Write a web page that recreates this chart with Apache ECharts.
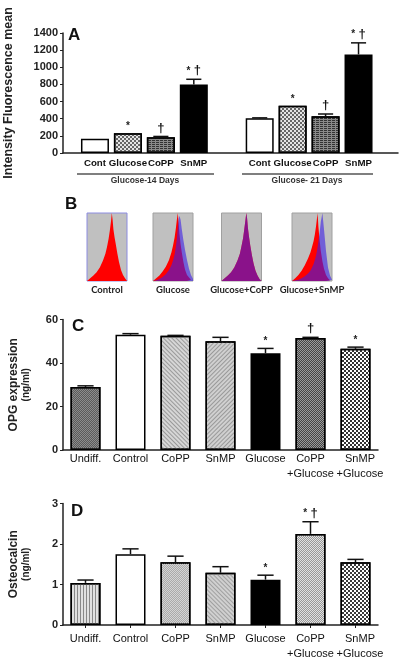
<!DOCTYPE html>
<html><head><meta charset="utf-8">
<script src="https://cdn.jsdelivr.net/npm/echarts@6/dist/echarts.min.js"></script>
<style>html,body{margin:0;padding:0;background:#fff}#c{width:400px;height:660px}</style>
</head><body><div id="c"></div>
<script>
// ---------- Panel A data ----------
const catsA  = ['Cont','Glucose','CoPP','SnMP','','Cont','Glucose','CoPP','SnMP'];
const meanA  = [165, 230, 185, 800, null, 405, 550, 430, 1150];
const errA   = [0, 0, 8, 60, null, 5, 0, 25, 135];
const sigA   = ['', '*', '†', '*†', '', '', '*', '†', '*†'];
const groupsA = ['Glucose-14 Days', 'Glucose- 21 Days'];
const yMaxA = 1400, yStepA = 200;
const yNameA = 'Intensity Fluorescence mean';

// ---------- Panel B data (flow histograms) ----------
const histBins   = [0, 8, 16, 24, 32, 40, 46, 50, 54, 57, 60, 62, 64, 66, 69, 72, 76, 80, 85, 90, 95, 100];
const histLabels = ['Control', 'Glucose', 'Glucose+CoPP', 'Glucose+SnMP'];
const controlRed   = [0, 4, 8, 13, 20, 30, 40, 50, 62, 74, 88, 100, 90, 76, 64, 54, 40, 28, 16, 9, 4, 0];
const glucoseRed   = [0, 4, 8, 14, 21, 31, 42, 52, 64, 77, 92, 100, 86, 70, 54, 42, 28, 17, 9, 5, 2, 0];
const glucoseBlue  = [0, 1, 3, 6, 10, 16, 23, 30, 39, 50, 64, 78, 90, 96, 90, 76, 60, 46, 31, 18, 9, 3];
const glucoseCoPP  = [0, 4, 8, 13, 20, 30, 40, 51, 63, 76, 90, 100, 92, 78, 64, 52, 38, 26, 15, 8, 3, 0];
const snmpRed      = [0, 4, 9, 15, 23, 33, 42, 50, 59, 68, 80, 90, 100, 80, 60, 44, 29, 18, 9, 4, 1, 0];
const snmpBlue     = [0, 1, 2, 4, 7, 11, 15, 20, 25, 31, 37, 43, 50, 58, 71, 87, 100, 76, 44, 20, 8, 2];

// ---------- Panels C & D data ----------
const catsCD = ['Undiff.', 'Control', 'CoPP', 'SnMP', 'Glucose', 'CoPP\n+Glucose', 'SnMP\n+Glucose'];
const meanC = [29, 53, 52.5, 50, 44.5, 51.5, 46.5];
const errC  = [0.5, 0.5, 0.2, 1.8, 2.2, 0.3, 0.8];
const sigC  = ['', '', '', '', '*', '†', '*'];
const yMaxC = 60, yStepC = 20;
const meanD = [1.04, 1.75, 1.55, 1.29, 1.12, 2.25, 1.55];
const errD  = [0.07, 0.13, 0.15, 0.15, 0.11, 0.30, 0.07];
const sigD  = ['', '', '', '', '*', '*†', ''];
const yMaxD = 3, yStepD = 1;

// ---------- styles ----------
const FONT = 'Liberation Sans';
const checker = (c, s) => ({symbol: 'rect', symbolSize: 1, color: c, dashArrayX: [[s, s], [0, s, s, 0]], dashArrayY: [s, 0]});
const hlines  = (c, d, g) => ({symbol: 'rect', symbolSize: 1, color: c, dashArrayX: d, dashArrayY: g});
const diag    = (c, rot) => ({symbol: 'rect', symbolSize: 1, color: c, dashArrayX: [1, 0], dashArrayY: [1, 2], rotation: rot});
const st = (fill, decal) => decal ? {color: fill, decal: decal} : {color: fill};

const white = st('#ffffff'), black = st('#000000');
const stylesA = [white, st('#e4e4e4', checker('#666', 2)), st('#8a8a8a', hlines('#333', [3, 1], [1, 1])), black, white,
                 white, st('#e4e4e4', checker('#666', 2)), st('#8a8a8a', hlines('#333', [3, 1], [1, 1])), black];
const stylesC = [st('#8c8c8c', checker('#5a5a5a', 1)), white, st('#d6d6d6', diag('#9a9a9a', Math.PI / 4)),
                 st('#d0d0d0', diag('#999', -Math.PI / 4)), black, st('#9a9a9a', checker('#444', 1)), st('#ffffff', checker('#333', 2))];
const stylesD = [st('#e0e0e0', diag('#888', Math.PI / 2)), white, st('#d4d4d4', checker('#aaa', 1)),
                 st('#d0d0d0', diag('#a0a0a0', Math.PI / 4)), black, st('#e2e2e2', checker('#999', 1)), st('#ffffff', checker('#3a3a3a', 2))];

function sigText(s) {
  if (!s) return '';
  return s.split('').map(ch => ch === '*' ? '{s|*}' : '{d|†}').join(' ');
}

function barSeries(xi, means, styles, bw) {
  return {
    type: 'bar', xAxisIndex: xi, yAxisIndex: xi, barWidth: bw, z: 3,
    data: means.map((v, i) => v == null ? '-' : {value: v, itemStyle: Object.assign({borderColor: '#000', borderWidth: 1.5}, styles[i])}),
    emphasis: {disabled: true}
  };
}

function errSeries(xi, means, errs, sigs, bw) {
  return {
    type: 'custom', xAxisIndex: xi, yAxisIndex: xi, z: 5, silent: true,
    data: means.map((m, i) => [i, m == null ? 0 : m, m == null ? 0 : m + errs[i]]),
    renderItem: function (params, api) {
      const i = params.dataIndex;
      if (means[i] == null) return null;
      const base = api.coord([api.value(0), api.value(1)]);
      const top = api.coord([api.value(0), api.value(2)]);
      const cap = bw * 0.27;
      const children = [];
      if (errs[i] > 0) {
        children.push({type: 'line', shape: {x1: base[0], y1: base[1], x2: top[0], y2: top[1]}, style: {stroke: '#111', lineWidth: 1.5}});
        children.push({type: 'line', shape: {x1: top[0] - cap, y1: top[1], x2: top[0] + cap, y2: top[1]}, style: {stroke: '#111', lineWidth: 1.5}});
      }
      if (sigs[i]) {
        children.push({type: 'text', style: {
          x: top[0], y: top[1] - 2, text: sigText(sigs[i]), align: 'center', verticalAlign: 'bottom',
          rich: {s: {fontSize: 10, fontFamily: FONT, fill: '#222', fontWeight: 'bold'},
                 d: {fontSize: 13, fontFamily: FONT, fill: '#111', fontWeight: 'bold'}}
        }});
      }
      return {type: 'group', children: children};
    }
  };
}

const boxLeft = [87, 153, 221.5, 292];
const redSets  = [controlRed, glucoseRed, glucoseCoPP, snmpRed];
const blueSets = [null, glucoseBlue, glucoseCoPP, snmpBlue];

const grids = [
  {left: 63, top: 33, width: 335, height: 120},
  {left: 78.5, top: 33, width: 296.5, height: 120},
];
boxLeft.forEach((l, k) => grids.push({left: l, top: 213, width: 40, height: 68, show: true,
  backgroundColor: '#c0c0c0', borderColor: k === 0 ? '#8c8ce0' : '#a0a0a0', borderWidth: 1}));
grids.push({left: 63, top: 319.5, width: 315, height: 130.5});
grids.push({left: 63, top: 503.5, width: 315, height: 121.5});
grids.forEach(g => { g.containLabel = false; g.outerBoundsMode = 'none'; });

const yLab = {fontFamily: FONT, fontWeight: 'bold', fontSize: 11, color: '#222', margin: 5, formatter: v => String(v)};
const axLine = {show: true, lineStyle: {color: '#222', width: 1.5}};

const xAxes = [
  {gridIndex: 0, type: 'value', min: 0, max: 1, axisLine: Object.assign({}, axLine, {onZero: false}), axisTick: {show: false}, axisLabel: {show: false}, splitLine: {show: false}},
  {gridIndex: 1, type: 'category', data: catsA, axisLine: {show: false}, axisTick: {show: false}, splitLine: {show: false},
   axisLabel: {interval: 0, hideOverlap: false, fontFamily: FONT, fontWeight: 'bold', fontSize: 9.7, color: '#111', margin: 5}},
];
const yAxes = [
  {gridIndex: 0, type: 'value', min: 0, max: yMaxA, interval: yStepA, axisLine: axLine,
   axisTick: {show: true, length: 3, lineStyle: {color: '#222'}}, axisLabel: yLab, splitLine: {show: false},
   name: yNameA, nameLocation: 'middle', nameGap: 48, nameTextStyle: {fontFamily: FONT, fontWeight: 'bold', fontSize: 12.5, color: '#222'}},
  {gridIndex: 1, type: 'value', min: 0, max: yMaxA, show: false},
];
boxLeft.forEach((l, k) => {
  xAxes.push({gridIndex: 2 + k, type: 'value', min: 0, max: 100, axisLine: {show: false}, axisTick: {show: false}, axisLabel: {show: false}, splitLine: {show: false},
    name: histLabels[k], nameLocation: 'middle', nameGap: 4,
    nameTextStyle: {fontFamily: 'Lato', fontWeight: 'bold', fontSize: 9.5, color: '#222', verticalAlign: 'top'}});
  yAxes.push({gridIndex: 2 + k, type: 'value', min: 0, max: 100, show: false});
});
const catCDLabel = {interval: 0, hideOverlap: false, fontFamily: FONT, fontSize: 11, color: '#111', lineHeight: 15};
const catCDData = catsCD.map((c, i) => i === catsCD.length - 1 ? {value: c, textStyle: {padding: [0, 0, 0, 9]}} : c);
xAxes.push({gridIndex: 6, type: 'category', data: catCDData, axisLine: axLine, axisTick: {show: false}, splitLine: {show: false},
  axisLabel: Object.assign({margin: 1}, catCDLabel)});
xAxes.push({gridIndex: 7, type: 'category', data: catCDData, axisLine: axLine, axisTick: {show: true, alignWithLabel: true, length: 3, lineStyle: {color: '#222'}}, splitLine: {show: false},
  axisLabel: Object.assign({margin: 6}, catCDLabel)});
const yNameStyle = {fontFamily: FONT, color: '#222', rich: {a: {fontSize: 12, fontWeight: 'bold', fontFamily: FONT, lineHeight: 13}, b: {fontSize: 10, fontWeight: 'bold', fontFamily: FONT, lineHeight: 12}}};
yAxes.push({gridIndex: 6, type: 'value', min: 0, max: yMaxC, interval: yStepC, axisLine: axLine,
  axisTick: {show: true, length: 3, lineStyle: {color: '#222'}}, axisLabel: yLab, splitLine: {show: false},
  name: '{a|OPG expression}\n{b|(ng/ml)}', nameLocation: 'middle', nameGap: 31, nameTextStyle: yNameStyle});
yAxes.push({gridIndex: 7, type: 'value', min: 0, max: yMaxD, interval: yStepD, axisLine: axLine,
  axisTick: {show: true, length: 3, lineStyle: {color: '#222'}}, axisLabel: yLab, splitLine: {show: false},
  name: '{a|Osteocalcin}\n{b|(ng/ml)}', nameLocation: 'middle', nameGap: 31, nameTextStyle: yNameStyle});

const series = [
  barSeries(1, meanA, stylesA, 28), errSeries(1, meanA, errA, sigA, 28),
  barSeries(6, meanC, stylesC, 30), errSeries(6, meanC, errC, sigC, 30),
  barSeries(7, meanD, stylesD, 30), errSeries(7, meanD, errD, sigD, 30),
];
boxLeft.forEach((l, k) => {
  series.push({type: 'line', xAxisIndex: 2 + k, yAxisIndex: 2 + k, symbol: 'none', silent: true,
    data: histBins.map((b, j) => [b, redSets[k][j]]), lineStyle: {width: 0}, areaStyle: {color: '#ff0000', opacity: 1}, z: 2});
  if (blueSets[k]) series.push({type: 'line', xAxisIndex: 2 + k, yAxisIndex: 2 + k, symbol: 'none', silent: true,
    data: histBins.map((b, j) => [b, blueSets[k][j]]), lineStyle: {width: 0}, areaStyle: {color: 'rgb(60,30,230)', opacity: 0.6}, z: 3});
});

const titleStyle = {fontFamily: FONT, fontWeight: 'bold', fontSize: 17, color: '#111'};
const option = {
  backgroundColor: '#fff',
  animation: false,
  title: [
    {text: 'A', left: 68, top: 27, padding: 0, textStyle: titleStyle},
    {text: 'B', left: 65, top: 196, padding: 0, textStyle: titleStyle},
    {text: 'C', left: 72, top: 318, padding: 0, textStyle: titleStyle},
    {text: 'D', left: 71, top: 503, padding: 0, textStyle: titleStyle},
  ],
  grid: grids, xAxis: xAxes, yAxis: yAxes, series: series,
  graphic: [
    {type: 'line', shape: {x1: 77, y1: 174, x2: 214, y2: 174}, style: {stroke: '#555', lineWidth: 1.5}},
    {type: 'line', shape: {x1: 242, y1: 174, x2: 373, y2: 174}, style: {stroke: '#555', lineWidth: 1.5}},
    {type: 'text', x: 145, y: 181, style: {text: groupsA[0], align: 'center', verticalAlign: 'middle', font: 'bold 8.5px "Liberation Sans"', fill: '#333'}},
    {type: 'text', x: 307, y: 181, style: {text: groupsA[1], align: 'center', verticalAlign: 'middle', font: 'bold 8.5px "Liberation Sans"', fill: '#333'}},
  ]
};
const chart = echarts.init(document.getElementById('c'), null, {renderer: 'canvas'});
chart.setOption(option);
</script></body></html>
